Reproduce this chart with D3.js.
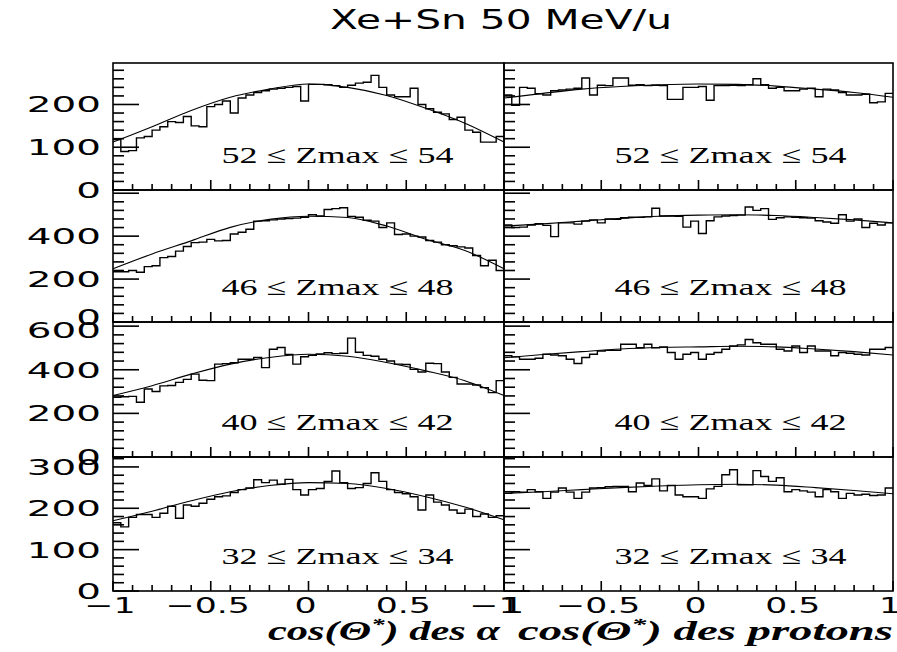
<!DOCTYPE html>
<html><head><meta charset="utf-8">
<script src="https://cdn.jsdelivr.net/npm/d3@7"></script>
<style>body{margin:0;background:#fff} svg{display:block}</style>
</head><body><svg id="c" width="897" height="652"></svg>
<script>
// ---------- data ----------
const title = "Xe+Sn 50 MeV/u";
const rowLabels = ["52 ≤ Zmax ≤ 54", "46 ≤ Zmax ≤ 48", "40 ≤ Zmax ≤ 42", "32 ≤ Zmax ≤ 34"];
const xTickValues = [-1, -0.5, 0, 0.5, 1];
const xTickLabels = ["−1", "−0.5", "0", "0.5", "1"];
const yTickRows = [[0, 100, 200], [0, 200, 400], [0, 200, 400, 600], [0, 100, 200, 300]];
const yMax = [297, 615, 619, 324];
const yMajor = [100, 200, 200, 100];
const yMinor = [20, 40, 40, 20];
const nBins = 50;
const fitX = [-1, -0.8, -0.6, -0.4, -0.2, 0, 0.2, 0.4, 0.6, 0.8, 1];

// alpha histograms (left column)
const alpha52 = [118, 90, 92, 122, 125, 140, 148, 160, 158, 172, 150, 148, 195, 200, 208, 180, 215, 222, 228, 232,
  236, 238, 240, 242, 208, 247, 247, 246, 244, 240, 245, 250, 252, 268, 240, 222, 218, 218, 238, 200,
  190, 182, 178, 165, 170, 140, 135, 112, 112, 125];
const alpha46 = [234, 234, 240, 232, 258, 262, 300, 305, 330, 352, 370, 372, 385, 378, 380, 410, 418, 432, 470, 472,
  476, 480, 482, 484, 488, 500, 494, 524, 528, 532, 492, 488, 474, 470, 440, 462, 408, 410, 400, 396,
  380, 372, 360, 355, 350, 345, 310, 262, 288, 240];
const alpha40 = [274, 276, 278, 251, 312, 300, 326, 328, 342, 356, 380, 352, 350, 426, 428, 432, 448, 448, 456, 410,
  494, 502, 470, 426, 460, 466, 472, 478, 474, 476, 545, 480, 466, 462, 448, 440, 426, 424, 402, 390,
  430, 428, 390, 365, 335, 335, 330, 318, 295, 350];
const alpha32 = [165, 155, 178, 185, 185, 178, 188, 205, 176, 208, 205, 212, 222, 228, 230, 238, 245, 249, 269, 262,
  268, 258, 270, 245, 232, 245, 248, 265, 290, 262, 248, 250, 260, 286, 265, 245, 238, 235, 228, 196,
  232, 215, 208, 196, 188, 198, 180, 186, 178, 182];
// proton histograms (right column)
const prot52 = [222, 198, 240, 238, 225, 222, 232, 234, 236, 238, 262, 222, 245, 244, 262, 262, 245, 246, 244, 245,
  244, 212, 212, 240, 240, 242, 210, 244, 244, 245, 244, 246, 260, 246, 238, 240, 232, 232, 236, 238,
  218, 236, 234, 228, 222, 222, 224, 204, 206, 226];
const prot46 = [452, 440, 442, 452, 458, 450, 398, 462, 462, 456, 470, 476, 462, 480, 478, 486, 488, 488, 490, 530,
  494, 494, 492, 442, 470, 412, 472, 490, 494, 496, 498, 536, 520, 528, 478, 486, 490, 488, 486, 484,
  472, 466, 460, 500, 470, 480, 440, 460, 452, 462];
const prot40 = [464, 459, 448, 448, 453, 471, 468, 464, 448, 429, 456, 471, 486, 489, 489, 517, 517, 501, 517, 501,
  505, 479, 448, 471, 479, 448, 471, 479, 494, 509, 514, 539, 524, 517, 517, 494, 486, 509, 479, 509,
  486, 486, 464, 479, 476, 471, 468, 494, 494, 502];
const prot32 = [236, 240, 239, 245, 240, 224, 239, 249, 239, 224, 239, 249, 250, 252, 253, 253, 240, 261, 255, 271,
  242, 255, 232, 228, 228, 224, 247, 253, 281, 293, 257, 257, 291, 277, 265, 274, 240, 245, 242, 239,
  228, 245, 240, 224, 236, 232, 234, 231, 232, 249];
// fitted curves, read at fitX
const fitAlpha52 = [112, 148, 186, 217, 236, 248, 240, 221, 191, 156, 112];
const fitAlpha46 = [248, 317, 378, 441, 478, 493, 487, 447, 386, 333, 248];
const fitAlpha40 = [282, 327, 380, 426, 456, 471, 462, 433, 395, 350, 282];
const fitAlpha32 = [170, 193, 218, 240, 255, 262, 260, 248, 228, 203, 172];
const fitProt52 = [215, 226, 236, 242, 246, 248, 247, 243, 236, 228, 217];
const fitProt46 = [447, 457, 470, 483, 493, 498, 500, 496, 487, 476, 462];
const fitProt40 = [455, 470, 483, 495, 502, 505, 508, 505, 495, 483, 468];
const fitProt32 = [236, 240, 245, 250, 254, 257, 258, 256, 250, 243, 235];

const histGrid = [[alpha52, prot52], [alpha46, prot46], [alpha40, prot40], [alpha32, prot32]];
const fitGrid = [[fitAlpha52, fitProt52], [fitAlpha46, fitProt46], [fitAlpha40, fitProt40], [fitAlpha32, fitProt32]];

// ---------- layout ----------
const colX = [[113, 504], [504, 893]];
const rowY = [[63, 190], [190, 322], [322, 457], [457, 591]];
const svg = d3.select("#c");
const sans = "DejaVu Sans";

function stretch(sel, f) {
  sel.each(function () {
    const w = this.getComputedTextLength();
    d3.select(this).attr("textLength", w * f).attr("lengthAdjust", "spacingAndGlyphs");
  });
}

// title
svg.append("text").attr("x", 501).attr("y", 29).attr("text-anchor", "middle")
  .attr("font-family", sans).attr("font-size", 26).attr("fill", "#000")
  .attr("textLength", 342).attr("lengthAdjust", "spacingAndGlyphs").text(title);

const binEdges = d3.range(nBins + 1).map(i => -1 + 2 * i / nBins);
const xTickPositions = d3.range(-10, 11).map(k => k / 10);

for (let r = 0; r < 4; r++) {
  for (let c = 0; c < 2; c++) {
    const x = d3.scaleLinear().domain([-1, 1]).range(colX[c]);
    const y = d3.scaleLinear().domain([0, yMax[r]]).range([rowY[r][1], rowY[r][0]]);
    const g = svg.append("g");
    const vals = histGrid[r][c];
    const yb = rowY[r][1];
    const xl = colX[c][0];

    // x ticks as thin filled rects (pointing up, inside)
    g.append("g").selectAll("rect").data(xTickPositions).join("rect")
      .attr("x", d => x(d) - 0.8).attr("width", 1.6)
      .attr("y", d => yb - (Math.abs(d * 2 - Math.round(d * 2)) < 1e-6 ? 10 : 6))
      .attr("height", d => (Math.abs(d * 2 - Math.round(d * 2)) < 1e-6 ? 10 : 6))
      .attr("fill", "#000");

    // y ticks as thin filled rects (pointing right, inside)
    g.append("g").selectAll("rect").data(d3.range(0, yMax[r] + 0.01, yMinor[r])).join("rect")
      .attr("x", xl).attr("width", d => (d % yMajor[r] === 0 ? 26 : 11))
      .attr("y", d => y(d) - 0.8).attr("height", 1.6)
      .attr("fill", "#000");

    // histogram step line
    const pts = [];
    vals.forEach((v, i) => { pts.push([x(binEdges[i]), y(v)]); pts.push([x(binEdges[i + 1]), y(v)]); });
    g.append("path").attr("d", d3.line()(pts)).attr("fill", "none")
      .attr("stroke", "#000").attr("stroke-width", 1.4);

    // fit curve
    const fit = fitGrid[r][c];
    g.append("path").attr("d", d3.line().x((d, i) => x(fitX[i])).y(d => y(d)).curve(d3.curveMonotoneX)(fit))
      .attr("fill", "none").attr("stroke", "#000").attr("stroke-width", 1.1);

    // frame
    g.append("rect").attr("x", colX[c][0]).attr("y", rowY[r][0])
      .attr("width", colX[c][1] - colX[c][0]).attr("height", rowY[r][1] - rowY[r][0])
      .attr("fill", "none").attr("stroke", "#000").attr("stroke-width", 1.6);

    // panel label
    g.append("text").attr("x", (colX[c][0] + colX[c][1]) / 2 + (c === 0 ? 29 : 32))
      .attr("y", rowY[r][1] - 27).attr("text-anchor", "middle")
      .attr("font-family", "Liberation Serif").attr("font-size", 24).attr("fill", "#000")
      .attr("textLength", 232).attr("lengthAdjust", "spacingAndGlyphs").text(rowLabels[r]);

    // y tick labels (left column only)
    if (c === 0) {
      const lab = g.append("g").selectAll("text").data(yTickRows[r]).join("text")
        .attr("x", 101).attr("y", d => y(d) + 8 - (r === 1 && d === 0 ? 5 : 0) + (r === 2 && d === 600 ? 4 : 0))
        .attr("text-anchor", "end")
        .attr("font-family", sans).attr("font-size", 21).attr("fill", "#000")
        .text(d => d);
      stretch(lab, 1.85);
    }
  }
}

// x tick labels
for (let c = 0; c < 2; c++) {
  const x = d3.scaleLinear().domain([-1, 1]).range(colX[c]);
  const lab = svg.append("g").selectAll("text").data(xTickValues).join("text")
    .attr("x", (d, i) => x(d) - 3 + (c === 0 && i === 4 ? 12 : 0) + (c === 1 && i === 0 ? -6 : 0))
    .attr("y", 613).attr("text-anchor", "middle")
    .attr("font-family", sans).attr("font-size", 21).attr("fill", "#000")
    .text((d, i) => xTickLabels[i]);
  stretch(lab, 1.65);
}

// axis titles
svg.append("text").attr("x", 500).attr("y", 640).attr("text-anchor", "end")
  .attr("font-family", "Liberation Serif").attr("font-style", "italic").attr("font-weight", "bold")
  .attr("font-size", 27).attr("fill", "#000").attr("textLength", 232).attr("lengthAdjust", "spacingAndGlyphs")
  .html('cos(Θ<tspan font-size="17" dy="-10">*</tspan><tspan dy="10">) des α</tspan>');
svg.append("text").attr("x", 893).attr("y", 640).attr("text-anchor", "end")
  .attr("font-family", "Liberation Serif").attr("font-style", "italic").attr("font-weight", "bold")
  .attr("font-size", 27).attr("fill", "#000").attr("textLength", 375).attr("lengthAdjust", "spacingAndGlyphs")
  .html('cos(Θ<tspan font-size="17" dy="-10">*</tspan><tspan dy="10">) des protons</tspan>');
</script></body></html>
